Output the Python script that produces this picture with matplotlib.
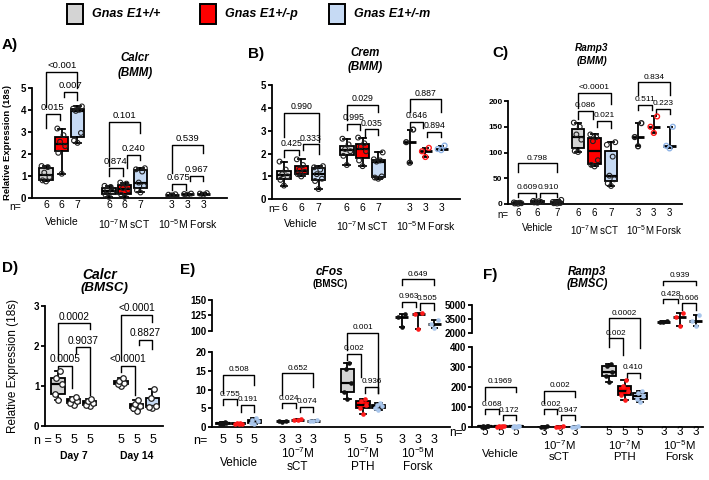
import numpy as np
import matplotlib
matplotlib.use('Agg')
import matplotlib.pyplot as plt
from matplotlib.patches import Rectangle
from matplotlib import transforms

plt.rcParams['font.family'] = ['Liberation Sans', 'DejaVu Sans']
plt.rcParams['mathtext.default'] = 'regular'
plt.rcParams['axes.linewidth'] = 1.3

W, H = 709, 480

# ---- data (wt = Gnas E1+/+, pat = E1+/-p, mat = E1+/-m), one list per condition ----
legend_labels = ['Gnas E1+/+', 'Gnas E1+/-p', 'Gnas E1+/-m']
bmm_groups = ['Vehicle', '10$^{-7}$M sCT', '10$^{-5}$M Forsk']
day_groups = ['Day 7', 'Day 14']
bmsc_groups = ['Vehicle', '10$^{-7}$M\nsCT', '10$^{-7}$M\nPTH', '10$^{-5}$M\nForsk']

# A) Calcr (BMM)
a_wt = [[0.75, 0.8, 0.95, 1.15, 1.4, 1.45], [0.05, 0.15, 0.28, 0.35, 0.5, 0.55], [0.12, 0.15, 0.17]]
a_pat = [[1.1, 2.05, 2.35, 2.55, 2.85, 3.15], [0.05, 0.15, 0.35, 0.45, 0.65, 0.7], [0.15, 0.18, 0.2]]
a_mat = [[2.5, 2.6, 2.95, 3.95, 4.0, 4.05, 4.15], [0.25, 0.35, 0.55, 0.7, 1.2, 1.3, 1.35], [0.15, 0.2, 0.22]]
a_p = [['0.015', '0.007', '<0.001'], ['0.874', '0.240', '0.101'], ['0.675', '0.967', '0.539']]

# B) Crem (BMM)
b_wt = [[0.6, 0.85, 1.0, 1.1, 1.3, 1.65], [1.5, 1.9, 2.1, 2.2, 2.4, 2.65], [1.6, 2.5, 3.05]]
b_pat = [[1.0, 1.1, 1.2, 1.3, 1.5, 1.75], [1.45, 1.7, 2.1, 2.3, 2.45, 2.7], [1.85, 2.1, 2.25]]
b_mat = [[0.45, 0.8, 0.9, 1.1, 1.3, 1.4, 1.45], [0.9, 0.95, 1.0, 1.65, 1.7, 1.75, 2.05], [2.15, 2.2, 2.35]]
b_p = [['0.425', '0.333', '0.990'], ['0.995', '0.035', '0.029'], ['0.646', '0.894', '0.887']]

# C) Ramp3 (BMM)
c_wt = [[0.5, 1, 1.5, 2, 2.5, 3], [101, 103, 125, 135, 150, 158], [112, 130, 157]]
c_pat = [[2.5, 3, 4, 5, 5.5, 6], [73, 76, 85, 122, 130, 135], [138, 150, 170]]
c_mat = [[1, 1.5, 2, 2.5, 3, 4, 8], [35, 40, 48, 55, 92, 115, 120], [108, 113, 150]]
c_p = [['0.609', '0.910', '0.798'], ['0.086', '0.021', '<0.0001'], ['0.511', '0.223', '0.834']]

# D) Calcr (BMSC)
d_wt = [[0.65, 0.8, 1.05, 1.2, 1.38], [1.0, 1.05, 1.08, 1.12, 1.2]]
d_pat = [[0.52, 0.56, 0.62, 0.68, 0.73], [0.38, 0.45, 0.5, 0.55, 0.65]]
d_mat = [[0.5, 0.53, 0.56, 0.62, 0.68], [0.45, 0.47, 0.5, 0.7, 0.92]]
d_p = [['0.0005', '0.9037', '0.0002'], ['<0.0001', '0.8827', '<0.0001']]

# E) cFos (BMSC)
e_wt = [[0.7, 0.9, 1.0, 1.2, 1.4], [1.4, 1.5, 1.6], [7.5, 9.4, 11.7, 15.5, 17.0], [105.5, 121.8, 128]]
e_pat = [[0.7, 0.8, 0.9, 1.0, 1.1], [1.8, 2.0, 2.1], [3.5, 5.0, 6.0, 7.0, 7.5], [102, 128, 129.3]]
e_mat = [[0.9, 1.1, 1.5, 2.0, 2.3], [1.5, 1.6, 1.8], [4.5, 5.2, 5.7, 6.0, 6.5], [104, 110.4, 117.4]]
e_p = [['0.755', '0.191', '0.508'], ['0.024', '0.074', '0.652'], ['0.002', '0.936', '0.001'], ['0.963', '0.505', '0.649']]

# F) Ramp3 (BMSC)
f_wt = [[1, 2, 3, 4, 5], [1, 2, 3], [225, 255, 275, 305, 315], [3150, 3200, 3250]]
f_pat = [[1, 2, 3, 4, 5], [1, 2, 3], [135, 160, 180, 205, 235], [2700, 3650, 4100]]
f_mat = [[1, 2, 3, 4, 5], [1, 2, 3], [125, 140, 155, 170, 180], [2750, 3300, 3900]]
f_p = [['0.068', '0.172', '0.1969'], ['0.002', '0.947', '0.002'], ['0.002', '0.410', '0.0002'], ['0.428', '0.606', '0.939']]

# ---- styles ----
FACES = ['#d4d4d4', '#ff0000', '#c6daf4']
DOTS = ['#111111', '#ff1a1a', '#a9c6ec']
JIT = np.array([0, -0.22, 0.22, -0.11, 0.11, -0.28, 0.28])
PAIRS = [(0, 1), (1, 2), (0, 2)]
LW = 1.3
INSET = 0.13  # gap between neighbouring brackets at the shared box

fig = plt.figure(figsize=(W / 100, H / 100), dpi=100)


def px_axes(l, t, r, b):
    return fig.add_axes([l / W, 1 - b / H, (r - l) / W, (b - t) / H])


def ftext(x, y, s, **kw):
    fig.text(x / W, 1 - y / H, s, **kw)


def draw_group(ax, pos, vals, face, mk, mk3):
    vals = np.asarray(vals, float)
    if len(vals) > 3:
        ax.boxplot([vals], positions=[pos], widths=0.85, whis=(0, 100), patch_artist=True,
                   showfliers=False, manage_ticks=False,
                   boxprops=dict(facecolor=face, edgecolor='k', linewidth=LW),
                   medianprops=dict(color='k', linewidth=1.6),
                   whiskerprops=dict(color='k', linewidth=LW),
                   capprops=dict(color='k', linewidth=LW))
    else:
        # median with range for the n=3 groups
        lo, md, hi = vals.min(), np.median(vals), vals.max()
        ax.vlines(pos, lo, hi, color='k', lw=LW)
        ax.hlines([lo, hi], pos - 0.2, pos + 0.2, color='k', lw=LW)
        ax.hlines(md, pos - 0.42, pos + 0.42, color='k', lw=2.0)
        mk = mk3
    ax.scatter(pos + JIT[:len(vals)], vals, zorder=5, clip_on=False, **mk)


def positions(starts, gaps):
    return [[st + k * g for k in range(3)] for st, g in zip(starts, gaps)]


def draw_panel(axs, pos, series, pvals, brk, mks, mks3, pfs):
    for c, ps in enumerate(pos):
        ax = axs[c]
        for k in range(3):
            draw_group(ax, ps[k], series[k][c], FACES[k], mks[k], mks3[k])
        for j, (a, b) in enumerate(PAIRS):
            h, e1, e2 = brk[c][j]
            x1, x2 = ps[a], ps[b]
            if j == 0:
                x2 -= INSET
            elif j == 1:
                x1 += INSET
            ax.plot([x1, x1, x2, x2], [e1, h, h, e2], color='k', lw=1.0, clip_on=False)
            ax.annotate(pvals[c][j], ((x1 + x2) / 2, h), xytext=(0, 1.2), textcoords='offset points',
                        ha='center', va='bottom', fontsize=pfs, annotation_clip=False)


def style_axis(ax, xlim, ylim, yticks, fs, bottom=True):
    ax.set_xlim(*xlim)
    ax.set_ylim(*ylim)
    ax.set_yticks(yticks)
    ax.set_xticks([])
    ax.spines['top'].set_visible(False)
    ax.spines['right'].set_visible(False)
    if not bottom:
        ax.spines['bottom'].set_visible(False)
    ax.tick_params(axis='y', length=3, width=LW, pad=1, labelsize=fs)
    for t in ax.get_yticklabels():
        t.set_fontweight('bold')
    ax.patch.set_visible(False)


def bottom_labels(ax, pos, series, y_n, nx, fs_n, groups, y_g, fs_g, bold=False, line_h=0, ntext='n='):
    tr = transforms.blended_transform_factory(ax.transData, fig.transFigure)
    for c, ps in enumerate(pos):
        for k in range(3):
            ax.text(ps[k], 1 - y_n / H, str(len(series[k][c])), transform=tr,
                    ha='center', va='center', fontsize=fs_n)
        yy = y_g if '\n' in groups[c] else y_g + line_h
        ax.text(ps[1], 1 - yy / H, groups[c], transform=tr, ha='center', va='top',
                fontsize=fs_g, linespacing=1.0, fontweight='bold' if bold else 'normal')
    ftext(nx, y_n + 1.5, ntext, ha='center', va='center', fontsize=fs_n)


open_mk = [dict(s=12, facecolor='none', edgecolors='#202020', linewidths=0.8)] * 3
tint_mk = [dict(s=12, facecolor='none', edgecolors=c, linewidths=1.0) for c in ['#202020', '#ff1a1a', '#8fb4e6']]
fill_mk = [dict(s=11, color=DOTS[k], linewidths=0) for k in range(3)]

# ---- legend ----
for k, x in enumerate([67, 200, 329]):
    fig.patches.append(Rectangle((x / W, 1 - 24 / H), 16 / W, 20 / H, transform=fig.transFigure,
                                 facecolor=FACES[k], edgecolor='k', lw=1.4))
    ftext(x + 25, 14, legend_labels[k], ha='left', va='center', fontsize=9,
          fontweight='bold', fontstyle='italic')

# ---- A ----
axA = px_axes(32, 87.7, 227, 198)
posA = positions([1, 5, 9], [1, 1, 1])
a_brk = [[(3.81, 3.16, 3.54), (4.82, 4.56, 4.44), (5.72, 4.14, 4.97)],
         [(1.36, 0.98, 0.98), (1.96, 1.36, 1.73), (3.46, 1.43, 2.94)],
         [(0.65, 0.38, 0.38), (1.0, 0.75, 0.75), (2.41, 1.13, 2.03)]]
draw_panel([axA] * 3, posA, [a_wt, a_pat, a_mat], a_p, a_brk, open_mk, open_mk, 6.8)
style_axis(axA, (0.11, 12.5), (0, 5), range(6), 7)
bottom_labels(axA, posA, [a_wt, a_pat, a_mat], 205, 15, 7.5, bmm_groups, 217, 7.5)
ftext(8, 143, 'Relative Expression (18s)', rotation=90, ha='center', va='center', fontsize=6.8, fontweight='bold')
ftext(135, 58, 'Calcr', ha='center', va='center', fontsize=8.3, fontweight='bold', fontstyle='italic')
ftext(135, 73, '(BMM)', ha='center', va='center', fontsize=8.3, fontweight='bold', fontstyle='italic')
ftext(2, 45, 'A)', ha='left', va='center', fontsize=11, fontweight='bold')

# ---- B ----
axB = px_axes(272, 85, 460, 199.3)
posB = positions([1, 5, 9], [1.1, 1, 1])
b_brk = [[(2.16, 1.87, 1.94), (2.4, 2.16, 2.0), (3.79, 2.74, 2.52)],
         [(3.29, 3.03, 3.03), (3.06, 2.74, 2.81), (4.13, 3.47, 3.83)],
         [(3.4, 3.1, 3.1), (2.96, 2.74, 2.74), (4.37, 3.83, 3.83)]]
draw_panel([axB] * 3, posB, [b_wt, b_pat, b_mat], b_p, b_brk, open_mk, tint_mk, 6.3)
style_axis(axB, (0.24, 12.2), (0, 5), range(6), 7)
bottom_labels(axB, posB, [b_wt, b_pat, b_mat], 208, 274, 7.5, bmm_groups, 219, 7.5)
ftext(365, 53, 'Crem', ha='center', va='center', fontsize=8.3, fontweight='bold', fontstyle='italic')
ftext(365, 67, '(BMM)', ha='center', va='center', fontsize=8.3, fontweight='bold', fontstyle='italic')
ftext(248, 54, 'B)', ha='left', va='center', fontsize=11, fontweight='bold')

# ---- C ----
axC = px_axes(508, 101, 682, 204)
posC = positions([1, 5, 9], [1.3, 1.1, 1.05])
c_brk = [[(22, 13, 13), (22, 13, 13), (79, 63, 63)],
         [(180.6, 166, 166), (161, 149, 147), (216, 186, 195)],
         [(192, 182.5, 182.5), (184.5, 175, 175), (236, 211.6, 211.6)]]
draw_panel([axC] * 3, posC, [c_wt, c_pat, c_mat], c_p, c_brk, open_mk, tint_mk, 6.0)
style_axis(axC, (0.33, 11.93), (0, 200), [0, 50, 100, 150, 200], 6)
bottom_labels(axC, posC, [c_wt, c_pat, c_mat], 213, 503, 7, bmm_groups, 223, 7)
ftext(592, 48, 'Ramp3', ha='center', va='center', fontsize=7.2, fontweight='bold', fontstyle='italic')
ftext(592, 61, '(BMM)', ha='center', va='center', fontsize=7.2, fontweight='bold', fontstyle='italic')
ftext(492, 53, 'C)', ha='left', va='center', fontsize=11, fontweight='bold')

# ---- D ----
axD = px_axes(45, 305.7, 163, 425.7)
posD = positions([1, 5], [1, 1])
d_brk = [[(1.49, 1.38, 0.95), (1.96, 1.81, 0.78), (2.56, 1.64, 2.43)],
         [(1.49, 1.35, 0.77), (2.14, 2.02, 1.93), (2.77, 1.64, 2.6)]]
d_mk = [dict(s=16, facecolor='white', edgecolors='#202020', linewidths=0.9)] * 3
draw_panel([axD] * 2, posD, [d_wt, d_pat, d_mat], d_p, d_brk, d_mk, d_mk, 7.3)
style_axis(axD, (0.17, 7.67), (0, 3), range(4), 7)
bottom_labels(axD, posD, [d_wt, d_pat, d_mat], 440, 43, 9, day_groups, 451, 7.5, bold=True, ntext='n =')
ftext(13, 366, 'Relative Expression (18s)', rotation=90, ha='center', va='center', fontsize=8.5)
ftext(100, 275, 'Calcr', ha='center', va='center', fontsize=10, fontweight='bold', fontstyle='italic')
ftext(104, 288, '(BMSC)', ha='center', va='center', fontsize=9.5, fontweight='bold', fontstyle='italic')
ftext(2, 268, 'D)', ha='left', va='center', fontsize=11, fontweight='bold')

# ---- E (broken axis) ----
posEF = positions([1, 4.8, 9, 12.5], [1, 1, 1, 1.05])
axE = px_axes(212, 352, 450, 427)
axE2 = px_axes(212, 300, 450, 330.7)
e_brk = [[(7.4, 5.9, 5.9), (5.9, 4.1, 4.0), (13.9, 9.0, 11.2)],
         [(6.3, 5.0, 5.0), (5.4, 4.0, 4.0), (14.3, 8.5, 10.7)],
         [(19.6, 17.9, 13.4), (10.7, 9.0, 9.0), (25.1, 20.5, 9.0)],
         [(147.2, 139, 139), (144.6, 133.7, 133.7), (183.7, 174.4, 174.4)]]
draw_panel([axE, axE, axE, axE2], posEF, [e_wt, e_pat, e_mat], e_p, e_brk, fill_mk, fill_mk, 5.9)
style_axis(axE, (0.29, 15.6), (0, 20), [0, 5, 10, 15, 20], 7)
style_axis(axE2, (0.29, 15.6), (100, 150), [100, 125, 150], 7, bottom=False)
bottom_labels(axE, posEF, [e_wt, e_pat, e_mat], 440, 200, 9, bmsc_groups, 446, 8.5, line_h=11.5)
ftext(330, 272, 'cFos', ha='center', va='center', fontsize=8.6, fontweight='bold', fontstyle='italic')
ftext(330, 284, '(BMSC)', ha='center', va='center', fontsize=7, fontweight='bold')
ftext(180, 270, 'E)', ha='left', va='center', fontsize=11, fontweight='bold')

# ---- F (broken axis) ----
axF = px_axes(472, 347, 703, 427)
axF2 = px_axes(472, 305, 703, 332.7)
f_brk = [[(88, 63, 63), (58, 35, 35), (202, 135, 177)],
         [(88, 65, 65), (58, 35, 35), (180, 118, 152)],
         [(443, 402, 360), (272, 243, 243), (543, 443, 393)],
         [(5617, 5184, 5184), (5184, 4458, 4458), (7633, 7166, 7166)]]
draw_panel([axF, axF, axF, axF2], posEF, [f_wt, f_pat, f_mat], f_p, f_brk, fill_mk, fill_mk, 5.9)
style_axis(axF, (0.16, 15.06), (0, 400), [0, 100, 200, 300, 400], 7)
style_axis(axF2, (0.16, 15.06), (2000, 5000), [2000, 3500, 5000], 7, bottom=False)
bottom_labels(axF, posEF, [f_wt, f_pat, f_mat], 432, 456, 8.5, bmsc_groups, 438, 8.2, line_h=11)
ftext(587, 272, 'Ramp3', ha='center', va='center', fontsize=8.3, fontweight='bold', fontstyle='italic')
ftext(587, 284, '(BMSC)', ha='center', va='center', fontsize=8.3, fontweight='bold', fontstyle='italic')
ftext(483, 275, 'F)', ha='left', va='center', fontsize=11, fontweight='bold')

fig.savefig('out.png', dpi=100)
